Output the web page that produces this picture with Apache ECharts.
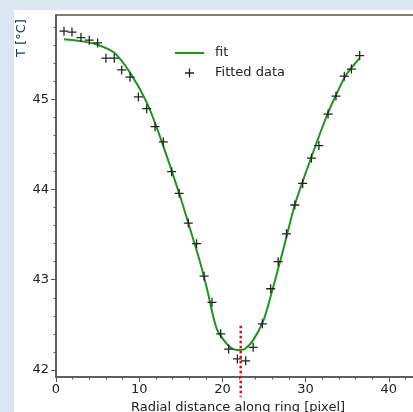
<!DOCTYPE html>
<html lang="en">
  <head>
    <meta charset="UTF-8" />
    <title>Radial temperature profile</title>
    <script src="https://cdn.jsdelivr.net/npm/echarts@6.0.0/dist/echarts.min.js"></script>
    <style>
      html, body { margin: 0; padding: 0; background: #dce6f2; }
    </style>
  </head>
  <body>
    <div id="main" style="width: 413px; height: 412px"></div>

    <script>
      // measured points (radial distance, temperature)
      var dataX = [0.96, 1.92, 3.0, 4.0, 5.0, 6.0, 7.0, 7.9, 8.9, 9.9, 10.9, 11.9, 12.9,
        13.9, 14.8, 15.9, 16.9, 17.8, 18.75, 19.8, 20.75, 21.8, 22.8, 23.7, 24.8, 25.8,
        26.7, 27.7, 28.7, 29.65, 30.7, 31.6, 32.7, 33.65, 34.65, 35.5, 36.5]
      var dataT = [45.76, 45.75, 45.69, 45.66, 45.63, 45.46, 45.46, 45.33, 45.25, 45.03,
        44.90, 44.70, 44.53, 44.20, 43.96, 43.63, 43.40, 43.04, 42.75, 42.40, 42.23, 42.12,
        42.10, 42.25, 42.51, 42.90, 43.20, 43.51, 43.83, 44.07, 44.35, 44.49, 44.84, 45.04,
        45.26, 45.34, 45.49]

      // fit curve
      var fitX = [0.96, 3, 5, 7, 8.9, 10.9, 12.5, 14.8, 15.9, 17.3, 18.1, 19.3, 20.5, 21.3,
        22.2, 22.7, 23.7, 24.9, 25.9, 27.3, 28.7, 30.3, 32.5, 33.7, 34.9, 36.5]
      var fitT = [45.67, 45.65, 45.61, 45.52, 45.30, 44.97, 44.59, 43.96, 43.63, 43.20,
        42.92, 42.46, 42.29, 42.23, 42.22, 42.23, 42.33, 42.54, 42.85, 43.33, 43.83, 44.26,
        44.81, 45.06, 45.28, 45.46]

      // position of the minimum (red marker)
      var minX = 22.2
      var minMarkT = [42.49, 41.7]

      var yMajor = [42, 43, 44, 45]
      var yMinor = [42.2, 42.4, 42.6, 42.8, 43.2, 43.4, 43.6, 43.8, 44.2, 44.4, 44.6, 44.8,
        45.2, 45.4, 45.6, 45.8]

      var plusIcon = "path://M4.3,0h1.4v4.3h4.3v1.4h-4.3v4.3h-1.4v-4.3h-4.3v-1.4h4.3z"
      var lineIcon = "path://M0,0h29v2h-29z"
      var font = "DejaVu Sans"

      var chart = echarts.init(document.getElementById("main"))

      var pts = dataX.map(function (x, i) { return [x, dataT[i]] })
      var fit = fitX.map(function (x, i) { return [x, fitT[i]] })

      var option = {
        animation: false,
        backgroundColor: "#dce6f2",
        textStyle: { fontFamily: font },
        graphic: [
          { type: "rect", z: -10, shape: { x: 14, y: 10, width: 420, height: 420 }, style: { fill: "#ffffff" } },
          {
            type: "text", x: 22, y: 38, rotation: Math.PI / 2,
            style: { text: "T [°C]", fontSize: 13, fontFamily: font, fill: "#1f3566", align: "center", verticalAlign: "middle" }
          }
        ],
        grid: {
          left: 56, top: 15, bottom: 35, right: -7,
          outerBoundsMode: "none", containLabel: false,
          show: true, borderColor: "#555", borderWidth: 1.5, backgroundColor: "transparent"
        },
        legend: {
          left: 175, top: 46.5, orient: "vertical", padding: 0,
          itemWidth: 29, itemHeight: 9, itemGap: 7,
          textStyle: { fontSize: 13, color: "#222", fontFamily: font, padding: [0, 0, 0, 6] },
          data: [
            { name: "fit", icon: lineIcon },
            { name: "Fitted data", icon: plusIcon }
          ]
        },
        xAxis: {
          type: "value", min: 0, max: 43.75, interval: 10,
          name: "Radial distance along ring [pixel]", nameLocation: "middle", nameGap: 23,
          nameTextStyle: { fontSize: 13, color: "#222", fontFamily: font },
          axisLine: { lineStyle: { color: "#555", width: 1.5 } },
          axisTick: { length: 5, lineStyle: { color: "#555" } },
          minorTick: { show: true, splitNumber: 5, length: 2.5, lineStyle: { color: "#555" } },
          axisLabel: { fontSize: 13, color: "#222", margin: 6, showMaxLabel: false },
          splitLine: { show: false }
        },
        yAxis: [
          {
            type: "value", min: 41.92, max: 45.94, position: "left",
            axisLine: { show: true, lineStyle: { color: "#555", width: 1.5 } },
            axisTick: { show: true, length: 5, customValues: yMajor, lineStyle: { color: "#555" } },
            axisLabel: { fontSize: 13, color: "#222", margin: 7, customValues: yMajor },
            splitLine: { show: false }
          },
          {
            type: "value", min: 41.92, max: 45.94, position: "left", offset: 0,
            axisLine: { show: false },
            axisTick: { show: true, length: 2.5, customValues: yMinor, lineStyle: { color: "#555" } },
            axisLabel: { show: false },
            splitLine: { show: false }
          }
        ],
        series: [
          {
            name: "fit", type: "line", data: fit, smooth: 0.3,
            symbol: "none", z: 2,
            lineStyle: { color: "#1e961e", width: 2 },
            itemStyle: { color: "#1e961e" }
          },
          {
            name: "Fitted data", type: "scatter", data: pts,
            symbol: plusIcon, symbolSize: 9, symbolKeepAspect: true, z: 3,
            itemStyle: { color: "#222", opacity: 1 }
          },
          {
            name: "min", type: "line", data: [[minX, minMarkT[0]], [minX, minMarkT[1]]],
            clip: false, symbol: "none", z: 4,
            lineStyle: { color: "#ff0000", width: 2.5, type: [2.5, 2.5], cap: "butt" }
          }
        ]
      }
      chart.setOption(option)
    </script>
  </body>
</html>
